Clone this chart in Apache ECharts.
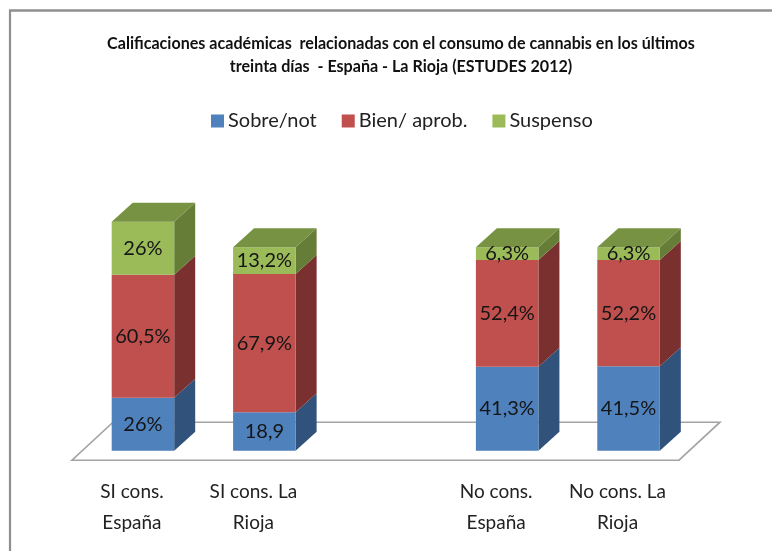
<!DOCTYPE html>
<html><head><meta charset="utf-8">
<style>html,body{margin:0;padding:0;background:#fff}#c{width:772px;height:551px}</style>
<script src="https://cdn.jsdelivr.net/npm/echarts@6/dist/echarts.min.js"></script>
</head><body><div id="c"></div>
<script>
const titleText = 'Calificaciones académicas  relacionadas con el consumo de cannabis en los últimos\ntreinta días  - España - La Rioja (ESTUDES 2012)';
const categories = ['SI cons.\nEspaña', 'SI cons. La\nRioja', '', 'No cons.\nEspaña', 'No cons. La\nRioja'];
const seriesNames = ['Sobre/not', 'Bien/ aprob.', 'Suspenso'];
const sobre = [26, 18.9, null, 41.3, 41.5];
const bien = [60.5, 67.9, null, 52.4, 52.2];
const suspenso = [26, 13.2, null, 6.3, 6.3];
const sobreLabels = ['26%', '18,9', '', '41,3%', '41,5%'];
const bienLabels = ['60,5%', '67,9%', '', '52,4%', '52,2%'];
const suspensoLabels = ['26%', '13,2%', '', '6,3%', '6,3%'];

const FONT = 'Lato';
const DX = 21, DY = 19;
const front = ['#4F81BD', '#C0504D', '#9BBB59'];
const side = ['#31527A', '#7A302F', '#667D38'];
const topFace = '#769242';

function poly(points, fill) {
  return { type: 'polygon', shape: { points }, style: { fill, stroke: null } };
}
function stackedData(values, below, labels) {
  const out = [];
  values.forEach((v, i) => {
    if (v == null) return;
    const base = below.reduce((s, arr) => s + arr[i], 0);
    out.push([i, base, base + v, labels[i]]);
  });
  return out;
}
function barRender(level, isTop) {
  return function (params, api) {
    const i = api.value(0);
    const bw = api.size([1, 0])[0] * 0.515;
    const c0 = api.coord([i, api.value(1)]);
    const c1 = api.coord([i, api.value(2)]);
    const l = c0[0] - bw / 2, r = c0[0] + bw / 2;
    const yb = c0[1], yt = c1[1];
    const children = [
      poly([[r, yb], [r + DX, yb - DY], [r + DX, yt - DY], [r, yt]], side[level]),
      { type: 'rect', shape: { x: l, y: yt, width: bw, height: yb - yt }, style: { fill: front[level] } }
    ];
    if (isTop) {
      children.push(poly([[l, yt], [l + DX, yt - DY], [r + DX, yt - DY], [r, yt]], topFace));
    }
    children.push({
      type: 'text', z2: 50,
      style: {
        x: c0[0], y: (yb + yt) / 2, text: api.value(3),
        align: 'center', verticalAlign: 'middle',
        fill: '#151515', font: '20px ' + FONT
      }
    });
    return { type: 'group', children };
  };
}
function floorRender(params, api) {
  const g = params.coordSys;
  const yf = g.y + g.height + 9.5, yb = yf - 38;
  const l = g.x - 10.25, r = g.x + g.width - 10.25;
  return {
    type: 'polygon',
    shape: { points: [[l, yf], [r, yf], [r + 41, yb], [l + 41, yb]] },
    style: { fill: '#fff', stroke: '#A3A3A3', lineWidth: 1.6 }
  };
}

const chart = echarts.init(document.getElementById('c'), null, { renderer: 'canvas' });
chart.setOption({
  animation: false,
  backgroundColor: '#fff',
  title: {
    text: titleText, left: 396, top: 28, textAlign: 'center',
    textStyle: { fontFamily: FONT, fontSize: 16.1, fontWeight: 'bold', color: '#111', lineHeight: 22.5 }
  },
  legend: {
    data: seriesNames, left: 206, top: 106, itemWidth: 13, itemHeight: 13, itemGap: 25, icon: 'rect',
    textStyle: { fontFamily: FONT, fontSize: 20, color: '#222', padding: [0, 0, 0, -1] }
  },
  grid: { left: 82.25, width: 607, top: 206.5, height: 244.2 },
  xAxis: {
    type: 'category', data: categories,
    axisLine: { show: false }, axisTick: { show: false },
    axisLabel: { interval: 0, margin: 26, fontFamily: FONT, fontSize: 19, lineHeight: 31, color: '#222', padding: [0, 22, 0, 0] }
  },
  yAxis: { type: 'value', min: 0, max: 120, show: false, splitLine: { show: false } },
  graphic: [
    { type: 'line', shape: { x1: 9, y1: 10.5, x2: 772, y2: 10.5 }, style: { stroke: '#8F8F8F', lineWidth: 2.5 } },
    { type: 'line', shape: { x1: 10, y1: 10, x2: 10, y2: 551 }, style: { stroke: '#8F8F8F', lineWidth: 2.2 } }
  ],
  series: [
    { type: 'custom', name: 'floor', z: 1, data: [[0, 0]], renderItem: floorRender, silent: true },
    { type: 'custom', name: seriesNames[0], z: 2, itemStyle: { color: front[0] },
      data: stackedData(sobre, [], sobreLabels), encode: { x: 0, y: [1, 2] }, renderItem: barRender(0, false) },
    { type: 'custom', name: seriesNames[1], z: 3, itemStyle: { color: front[1] },
      data: stackedData(bien, [sobre], bienLabels), encode: { x: 0, y: [1, 2] }, renderItem: barRender(1, false) },
    { type: 'custom', name: seriesNames[2], z: 4, itemStyle: { color: front[2] },
      data: stackedData(suspenso, [sobre, bien], suspensoLabels), encode: { x: 0, y: [1, 2] }, renderItem: barRender(2, true) }
  ]
});
</script></body></html>
